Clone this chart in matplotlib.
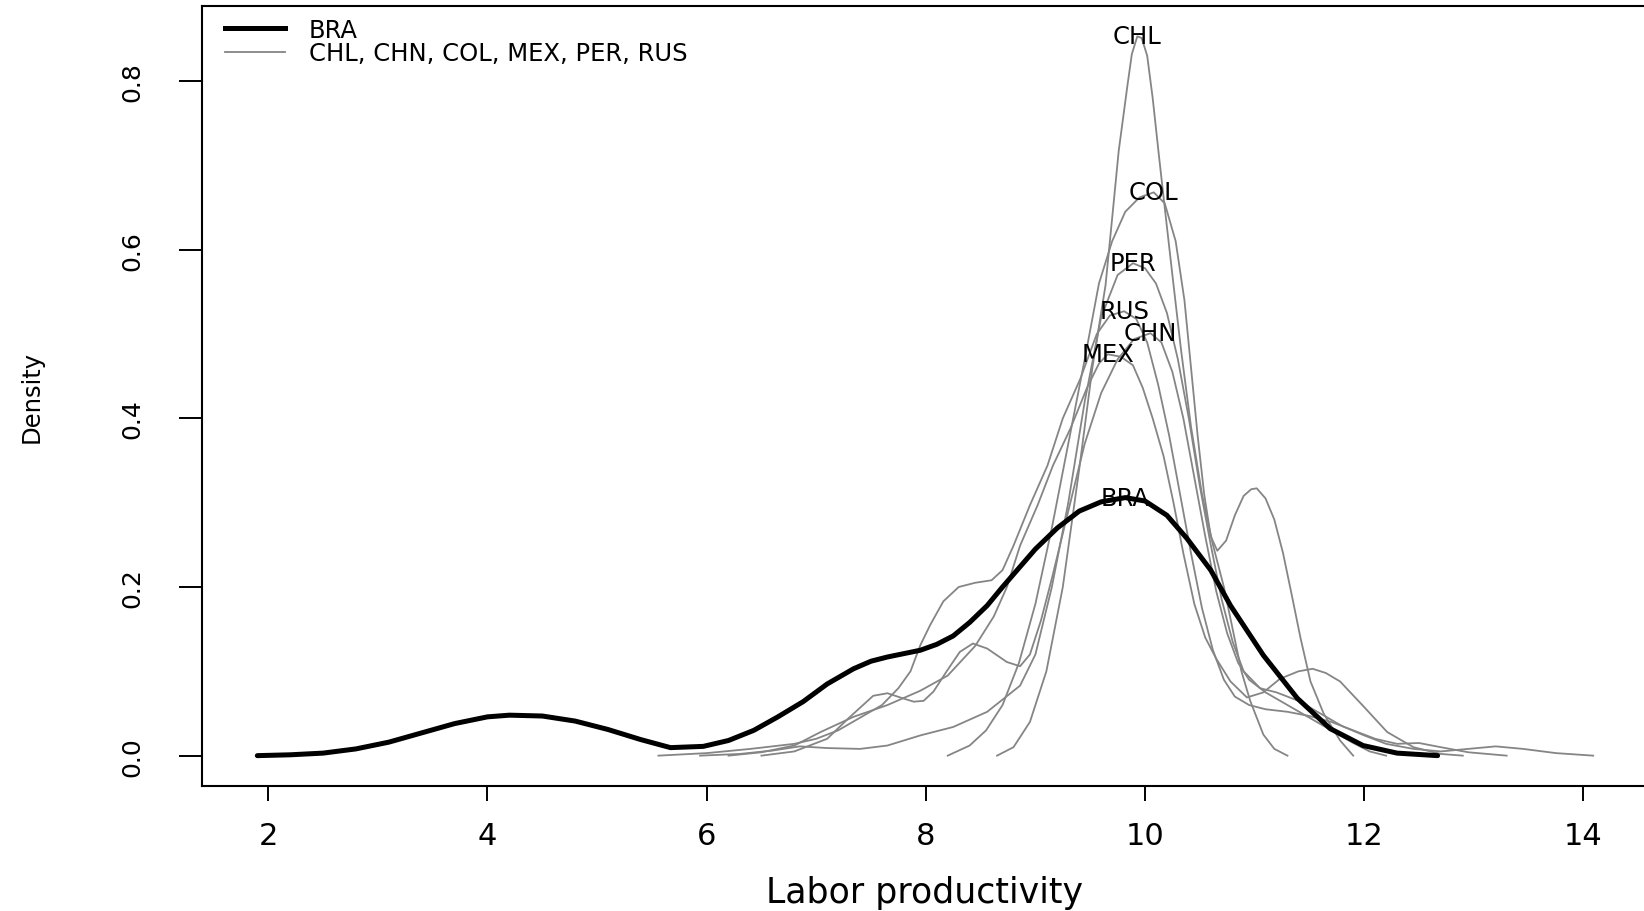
import matplotlib
matplotlib.use("Agg")
import matplotlib.pyplot as plt
import matplotlib.font_manager as fm
from matplotlib.lines import Line2D

# ---------------- data ----------------
bra_x = [1.90, 2.20, 2.50, 2.80, 3.10, 3.40, 3.70, 4.00, 4.20, 4.50, 4.80, 5.10, 5.40, 5.67, 5.97,
         6.20, 6.43, 6.65, 6.88, 7.10, 7.34, 7.50, 7.65, 7.95, 8.10, 8.25, 8.40, 8.56, 8.70, 8.86,
         9.00, 9.20, 9.40, 9.60, 9.82, 10.00, 10.20, 10.38, 10.60, 10.78, 11.08, 11.39, 11.69,
         11.99, 12.30, 12.67]
bra_y = [0.000, 0.001, 0.003, 0.008, 0.016, 0.027, 0.038, 0.046, 0.048, 0.047, 0.041, 0.031, 0.019,
         0.0095, 0.011, 0.018, 0.030, 0.046, 0.064, 0.085, 0.103, 0.112, 0.117, 0.125, 0.132, 0.142,
         0.158, 0.178, 0.200, 0.224, 0.245, 0.270, 0.290, 0.301, 0.306, 0.302, 0.285, 0.258, 0.220,
         0.178, 0.119, 0.068, 0.032, 0.012, 0.003, 0.000]

chl_x = [8.65, 8.80, 8.95, 9.10, 9.25, 9.40, 9.52, 9.64, 9.70, 9.76, 9.84, 9.88, 9.93, 9.97, 10.02,
         10.07, 10.12, 10.18, 10.25, 10.33, 10.42, 10.52, 10.62, 10.72, 10.80, 10.88, 10.96, 11.08,
         11.18, 11.30]
chl_y = [0.000, 0.010, 0.040, 0.100, 0.200, 0.340, 0.460, 0.558, 0.637, 0.717, 0.795, 0.832, 0.853,
         0.851, 0.830, 0.780, 0.720, 0.650, 0.570, 0.480, 0.390, 0.310, 0.250, 0.200, 0.150, 0.100,
         0.065, 0.025, 0.008, 0.000]

col_x = [8.20, 8.40, 8.55, 8.70, 8.85, 9.00, 9.15, 9.30, 9.45, 9.58, 9.70, 9.82, 9.95, 10.08,
         10.18, 10.28, 10.36, 10.42, 10.48, 10.54, 10.60, 10.66, 10.74, 10.82, 10.90, 10.97, 11.02,
         11.10, 11.18, 11.26, 11.34, 11.42, 11.51, 11.63, 11.78, 11.90]
col_y = [0.000, 0.012, 0.030, 0.060, 0.110, 0.180, 0.270, 0.370, 0.470, 0.560, 0.610, 0.645, 0.662,
         0.668, 0.655, 0.610, 0.540, 0.460, 0.380, 0.310, 0.260, 0.243, 0.255, 0.285, 0.308, 0.316,
         0.317, 0.305, 0.280, 0.240, 0.190, 0.139, 0.088, 0.050, 0.018, 0.000]

per_x = [5.94, 6.30, 6.60, 6.85, 7.10, 7.40, 7.65, 7.95, 8.25, 8.56, 8.86, 9.00, 9.15, 9.30, 9.45,
         9.60, 9.75, 9.89, 10.00, 10.10, 10.20, 10.30, 10.40, 10.50, 10.60, 10.70, 10.80, 10.90,
         11.05, 11.20, 11.40, 11.60, 11.80, 12.00, 12.20, 12.45, 12.70, 12.95, 13.20, 13.45, 13.75, 14.09]
per_y = [0.000, 0.002, 0.006, 0.011, 0.009, 0.008, 0.012, 0.024, 0.034, 0.052, 0.083, 0.120, 0.200,
         0.300, 0.420, 0.520, 0.570, 0.584, 0.578, 0.560, 0.525, 0.470, 0.400, 0.320, 0.250, 0.185,
         0.135, 0.100, 0.080, 0.075, 0.065, 0.050, 0.035, 0.024, 0.014, 0.008, 0.005, 0.008, 0.011,
         0.008, 0.003, 0.000]

rus_x = [5.56, 6.00, 6.40, 6.80, 7.00, 7.20, 7.40, 7.60, 7.75, 7.86, 7.95, 8.04, 8.16, 8.30, 8.45,
         8.60, 8.70, 8.80, 8.95, 9.11, 9.25, 9.41, 9.56, 9.68, 9.81, 9.92, 10.02, 10.12, 10.22, 10.32,
         10.42, 10.52, 10.62, 10.72, 10.82, 10.95, 11.10, 11.30, 11.50, 11.70, 11.90, 12.10, 12.30,
         12.50, 12.70, 12.95, 13.30]
rus_y = [0.000, 0.003, 0.008, 0.014, 0.020, 0.030, 0.045, 0.060, 0.080, 0.100, 0.131, 0.155, 0.183,
         0.200, 0.205, 0.208, 0.220, 0.249, 0.297, 0.344, 0.400, 0.447, 0.500, 0.522, 0.527, 0.518,
         0.490, 0.440, 0.380, 0.310, 0.240, 0.175, 0.125, 0.090, 0.070, 0.060, 0.055, 0.052, 0.047,
         0.040, 0.030, 0.020, 0.014, 0.015, 0.010, 0.004, 0.000]

chn_x = [6.50, 6.80, 7.10, 7.30, 7.52, 7.65, 7.79, 7.89, 7.98, 8.07, 8.19, 8.31, 8.43, 8.56, 8.74,
         8.86, 8.95, 9.05, 9.15, 9.30, 9.45, 9.60, 9.75, 9.90, 10.05, 10.15, 10.25, 10.35, 10.45,
         10.55, 10.65, 10.75, 10.85, 10.95, 11.10, 11.30, 11.50, 11.70, 11.90, 12.05, 12.20]
chn_y = [0.000, 0.005, 0.020, 0.045, 0.071, 0.074, 0.068, 0.064, 0.065, 0.076, 0.100, 0.123, 0.133,
         0.127, 0.111, 0.106, 0.120, 0.160, 0.210, 0.290, 0.370, 0.430, 0.470, 0.494, 0.501, 0.490,
         0.455, 0.400, 0.330, 0.260, 0.195, 0.145, 0.110, 0.090, 0.075, 0.060, 0.045, 0.030, 0.015,
         0.005, 0.000]

mex_x = [6.20, 6.50, 6.80, 7.04, 7.34, 7.65, 7.95, 8.20, 8.45, 8.62, 8.74, 8.86, 9.02, 9.16, 9.32,
         9.47, 9.58, 9.66, 9.78, 9.89, 9.98, 10.07, 10.17, 10.26, 10.35, 10.45, 10.55, 10.65, 10.78,
         10.93, 11.08, 11.23, 11.40, 11.53, 11.65, 11.78, 11.99, 12.21, 12.45, 12.70, 12.90]
mex_y = [0.000, 0.004, 0.012, 0.028, 0.046, 0.060, 0.077, 0.095, 0.130, 0.165, 0.200, 0.249, 0.297,
         0.344, 0.388, 0.436, 0.465, 0.476, 0.473, 0.463, 0.436, 0.400, 0.355, 0.300, 0.240, 0.180,
         0.140, 0.115, 0.088, 0.069, 0.075, 0.091, 0.100, 0.103, 0.098, 0.088, 0.059, 0.028, 0.010,
         0.002, 0.000]

other_names = ["CHL", "CHN", "COL", "MEX", "PER", "RUS"]
other_x = {"CHL": chl_x, "CHN": chn_x, "COL": col_x, "MEX": mex_x, "PER": per_x, "RUS": rus_x}
other_y = {"CHL": chl_y, "CHN": chn_y, "COL": col_y, "MEX": mex_y, "PER": per_y, "RUS": rus_y}

x_ticks = [2, 4, 6, 8, 10, 12, 14]
y_ticks = [0.0, 0.2, 0.4, 0.6, 0.8]
y_tick_labels = ["0.0", "0.2", "0.4", "0.6", "0.8"]

# ---------------- fonts ----------------
avail = {f.name for f in fm.fontManager.ttflist}
HFONT = "DejaVu Sans"
if "Liberation Sans Narrow" in avail:
    VFONT, v_tick_size, v_label_size, y_pad = "Liberation Sans Narrow", 21, 22, 25
else:
    VFONT, v_tick_size, v_label_size, y_pad = "DejaVu Sans", 18, 17.5, 25

GREY = "#858585"

fig = plt.figure(figsize=(16.44, 9.12), dpi=100)
ax = fig.add_axes([202 / 1644, 1 - 787 / 912, (1648 - 202) / 1644, (787 - 7) / 912])

for name in other_names:
    ax.plot(other_x[name], other_y[name], color=GREY, lw=1.3, zorder=2)
ax.plot(bra_x, bra_y, color="black", lw=3.6, zorder=3, solid_capstyle="round")

# labels at each curve's maximum
def peak(xs, ys):
    i = max(range(len(ys)), key=lambda k: ys[k])
    return xs[i], ys[i]

for name in other_names:
    px, py = peak(other_x[name], other_y[name])
    ax.text(px, py, name, ha="center", va="center", fontsize=17.5, family=HFONT, zorder=4)
px, py = peak(bra_x, bra_y)
ax.text(px, py, "BRA", ha="center", va="center", fontsize=17.5, family=HFONT, zorder=4)

ax.set_xlim(1.395, 14.59)
ax.set_ylim(-0.036, 0.889)

ax.set_xticks(x_ticks)
ax.set_xticklabels([str(t) for t in x_ticks], fontsize=22, family=HFONT)
ax.set_yticks(y_ticks)
ax.set_yticklabels(y_tick_labels, fontsize=v_tick_size, family=VFONT, rotation=90, va="center")

ax.tick_params(axis="x", length=11, width=1.4, pad=14, colors="black")
ax.tick_params(axis="y", length=16.5, width=1.4, pad=y_pad, colors="black")

for s in ax.spines.values():
    s.set_linewidth(1.5)
    s.set_color("black")

xl = ax.set_xlabel("Labor productivity", fontsize=25, family=HFONT)
xl.set_va("baseline")
ax.xaxis.set_label_coords(0.5, (787 - 903) / 780)
ax.set_ylabel("Density", fontsize=v_label_size, family=VFONT, va="center")
ax.yaxis.set_label_coords((32 - 202) / 1446, 0.5)

handles = [Line2D([], [], color="black", lw=3.6),
           Line2D([], [], color=GREY, lw=1.3)]
labels = ["BRA", ", ".join(other_names)]
leg = ax.legend(handles, labels, loc="upper left", bbox_to_anchor=((225 - 202) / 1446, 1 - (19 - 7) / 780),
                frameon=False, borderpad=0, borderaxespad=0, handlelength=2.45, handletextpad=1.0,
                labelspacing=-0.04, prop={"family": HFONT, "size": 17.5})

fig.savefig("out.png", dpi=100)
